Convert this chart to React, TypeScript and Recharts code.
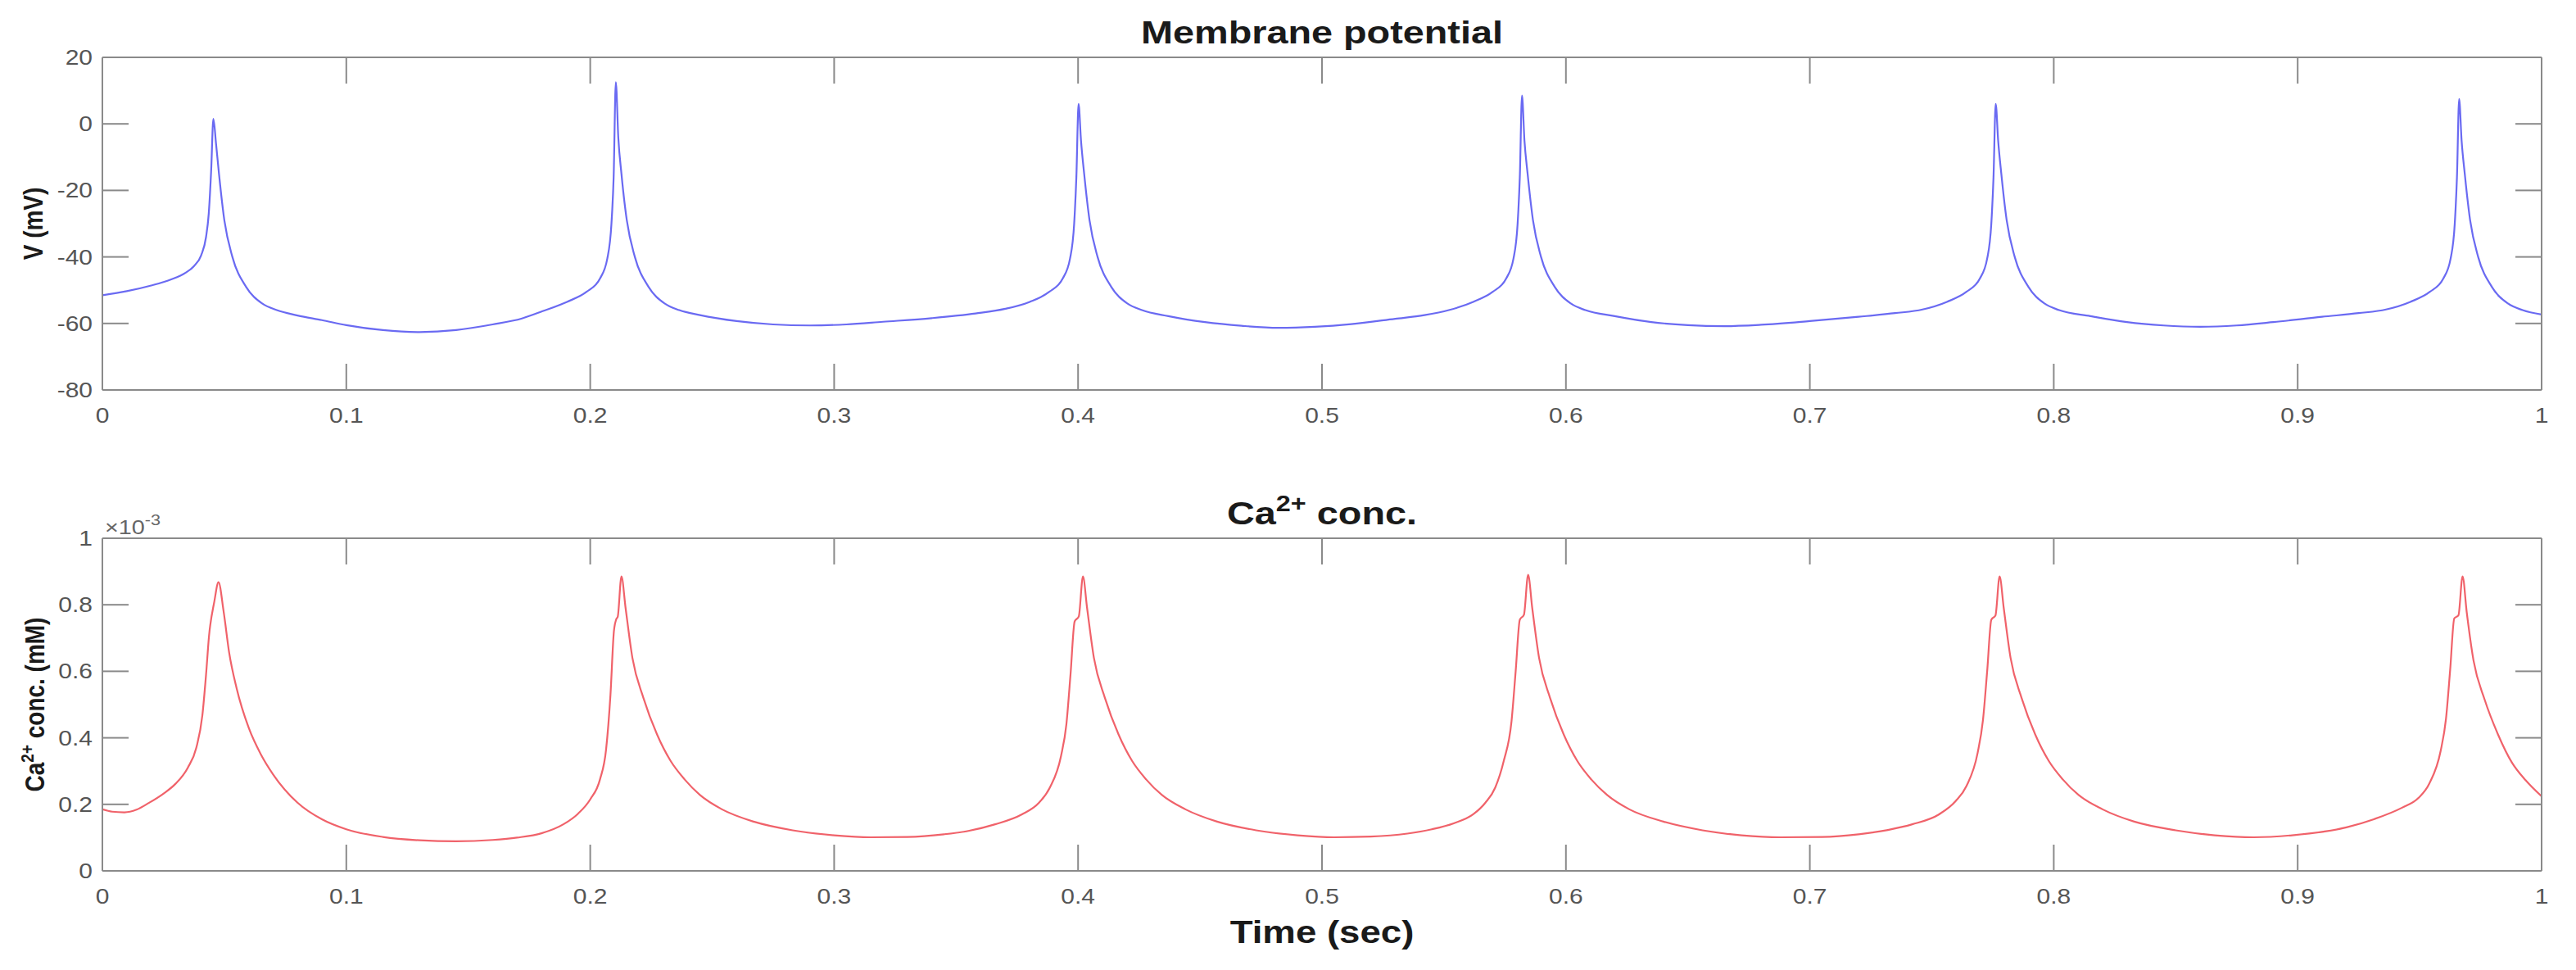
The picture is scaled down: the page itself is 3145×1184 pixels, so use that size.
import React from "react";
import { LineChart, Line, XAxis, YAxis } from "recharts";

// ---- Data ----
const timeTicks = [0, 0.1, 0.2, 0.3, 0.4, 0.5, 0.6, 0.7, 0.8, 0.9, 1];
const vTicks = [-80, -60, -40, -20, 0, 20];
const caTicks = [0, 0.2, 0.4, 0.6, 0.8, 1];

// Membrane potential: [time (s), V (mV)]
const vPoints: [number, number][] = [
  [0, -51.5], [0.01, -50.3], [0.02, -48.6], [0.028, -46.8], [0.034, -44.8], [0.0375, -42.8], [0.0405, -39.5],
  [0.0425, -34], [0.0436, -27], [0.0446, -14], [0.0455, 1.5], [0.0466, -6], [0.0478, -15], [0.05, -29],
  [0.0533, -40], [0.0589, -49], [0.0655, -54], [0.0715, -56], [0.08, -57.6], [0.09, -59], [0.1, -60.5],
  [0.115, -62], [0.13, -62.6], [0.145, -62], [0.16, -60.3], [0.172, -58.5], [0.1805, -56.3], [0.1905, -53.5],
  [0.1985, -50.5], [0.204, -46.5], [0.207, -40.5], [0.2087, -30], [0.2096, -16], [0.2105, 12.5],
  [0.2115, -4], [0.2128, -15], [0.215, -29], [0.2183, -40], [0.2239, -49], [0.2305, -54], [0.2365, -56],
  [0.245, -57.5], [0.26, -59.3], [0.275, -60.3], [0.29, -60.6], [0.305, -60.3], [0.32, -59.5], [0.34, -58.4],
  [0.358, -57], [0.3702, -55.6], [0.3802, -53.5], [0.3882, -50.5], [0.3937, -46.5], [0.3967, -40.5],
  [0.3984, -30], [0.3993, -16], [0.4002, 6],
  [0.4012, -5], [0.4025, -15], [0.4047, -29], [0.408, -40], [0.4136, -49], [0.4202, -54], [0.4262, -56],
  [0.437, -57.8], [0.452, -59.6], [0.467, -60.7], [0.482, -61.3], [0.497, -61], [0.512, -60.2], [0.53, -58.6],
  [0.542, -57.5], [0.552, -56], [0.562, -53.5], [0.57, -50.5], [0.5755, -46.5], [0.5785, -40.5], [0.5802, -30],
  [0.5811, -16], [0.582, 8.5],
  [0.583, -5], [0.5843, -15], [0.5865, -29], [0.5898, -40], [0.5954, -49], [0.602, -54], [0.608, -56],
  [0.62, -57.8], [0.635, -59.6], [0.65, -60.5], [0.665, -60.8], [0.68, -60.4], [0.7, -59.3], [0.72, -58],
  [0.735, -56.9], [0.7462, -55.8], [0.7562, -53.5], [0.7642, -50.5], [0.7697, -46.5], [0.7727, -40.5],
  [0.7744, -30], [0.7753, -16], [0.7762, 6],
  [0.7772, -5], [0.7785, -15], [0.7807, -29], [0.784, -40], [0.7896, -49], [0.7962, -54], [0.8022, -56],
  [0.815, -57.8], [0.83, -59.6], [0.845, -60.6], [0.86, -61], [0.875, -60.6], [0.89, -59.6], [0.91, -58],
  [0.925, -56.9], [0.9362, -55.8], [0.9462, -53.5], [0.9542, -50.5], [0.9597, -46.5], [0.9627, -40.5],
  [0.9644, -30], [0.9653, -16], [0.9662, 7.5],
  [0.9672, -5], [0.9685, -15], [0.9707, -29], [0.974, -40], [0.9796, -49], [0.9862, -54], [0.9922, -56],
  [1.0, -57.3],
];

// Ca2+ concentration: [time (s), conc (x10^-3 mM)]
const caPoints: [number, number][] = [
  [0, 0.185], [0.004, 0.178], [0.009, 0.176], [0.014, 0.184], [0.019, 0.204], [0.025, 0.232], [0.03, 0.262],
  [0.035, 0.31], [0.0385, 0.37], [0.041, 0.468], [0.0425, 0.59], [0.0437, 0.705], [0.0459, 0.81], [0.0476, 0.868],
  [0.0497, 0.78], [0.052, 0.655], [0.055, 0.55], [0.06, 0.43], [0.065, 0.35], [0.07, 0.29], [0.08, 0.205],
  [0.09, 0.155], [0.1, 0.125], [0.115, 0.102], [0.13, 0.092], [0.145, 0.089], [0.16, 0.093], [0.17, 0.1],
  [0.18, 0.113], [0.189, 0.14], [0.195, 0.172], [0.2, 0.215], [0.204, 0.275], [0.2065, 0.365], [0.2083, 0.53],
  [0.2097, 0.72], [0.2106, 0.755], [0.2113, 0.765], [0.2128, 0.885], [0.2145, 0.79], [0.2173, 0.64],
  [0.2218, 0.52], [0.2274, 0.41], [0.233, 0.33], [0.2387, 0.275], [0.245, 0.228], [0.254, 0.185], [0.267, 0.148],
  [0.283, 0.122], [0.3, 0.107], [0.315, 0.101], [0.33, 0.102], [0.345, 0.11], [0.355, 0.12], [0.366, 0.14],
  [0.377, 0.17], [0.384, 0.205], [0.3884, 0.25], [0.393, 0.345], [0.3952, 0.44], [0.3969, 0.59], [0.3986, 0.75],
  [0.4003, 0.765], [0.402, 0.885], [0.4037, 0.79], [0.4065, 0.64], [0.411, 0.52], [0.4166, 0.41], [0.4222, 0.33],
  [0.4279, 0.275], [0.4344, 0.228], [0.444, 0.185], [0.457, 0.148], [0.473, 0.122], [0.49, 0.107], [0.505, 0.101],
  [0.52, 0.103], [0.535, 0.112], [0.545, 0.125], [0.554, 0.143], [0.562, 0.17], [0.567, 0.205], [0.571, 0.25],
  [0.5745, 0.33], [0.5777, 0.45], [0.5794, 0.6], [0.5811, 0.755], [0.5828, 0.77], [0.5845, 0.89], [0.5862, 0.79],
  [0.589, 0.64], [0.5935, 0.52], [0.5991, 0.41], [0.6047, 0.33], [0.6104, 0.275], [0.6169, 0.228], [0.626, 0.185],
  [0.64, 0.148], [0.656, 0.122], [0.672, 0.107], [0.688, 0.101], [0.705, 0.102], [0.72, 0.11], [0.732, 0.123],
  [0.742, 0.14], [0.753, 0.17], [0.7598, 0.21], [0.7642, 0.255], [0.7688, 0.355], [0.771, 0.455], [0.7727, 0.6],
  [0.7744, 0.755], [0.7761, 0.768], [0.7778, 0.885], [0.7795, 0.79], [0.7823, 0.64], [0.7868, 0.52],
  [0.7924, 0.41], [0.798, 0.33], [0.8037, 0.275], [0.8102, 0.228], [0.82, 0.185], [0.833, 0.148], [0.85, 0.122],
  [0.866, 0.107], [0.882, 0.101], [0.8977, 0.107], [0.92, 0.131], [0.9315, 0.156], [0.9428, 0.19],
  [0.9495, 0.219], [0.954, 0.263], [0.9586, 0.36], [0.9608, 0.457], [0.9625, 0.603], [0.9642, 0.759],
  [0.9659, 0.768], [0.9676, 0.885], [0.9693, 0.778], [0.9721, 0.632], [0.9766, 0.516], [0.9822, 0.409],
  [0.9878, 0.326], [0.9935, 0.272], [1.0, 0.224],
];

const vData = vPoints.map(([t, v]) => ({ t, v }));
const caData = caPoints.map(([t, ca]) => ({ t, ca }));

// ---- Style ----
const FONT = '"Liberation Sans", Arial, Helvetica, sans-serif';
const AXIS = "#8a8a8a";
const LABEL = "#555555";
const TITLE = "#1a1a1a";
const TICK_LEN = 32;
const SX = 1.2;

const fmt = (v: number) => String(Math.round(v * 10) / 10);

const BottomTick = (p: any) => (
  <g>
    <line x1={p.x} y1={p.y} x2={p.x} y2={p.y - TICK_LEN} stroke={AXIS} strokeWidth={2} />
    <text
      transform={`translate(${p.x},${p.y + 40}) scale(${SX},1)`}
      textAnchor="middle"
      fontSize={25}
      fill={LABEL}
      fontFamily={FONT}
    >
      {fmt(p.payload.value)}
    </text>
  </g>
);
const TopTick = (p: any) => (
  <line x1={p.x} y1={p.y} x2={p.x} y2={p.y + TICK_LEN} stroke={AXIS} strokeWidth={2} />
);
const LeftTick = (p: any) => (
  <g>
    <line x1={p.x} y1={p.y} x2={p.x + TICK_LEN} y2={p.y} stroke={AXIS} strokeWidth={2} />
    <text
      transform={`translate(${p.x - 12},${p.y + 9}) scale(${SX},1)`}
      textAnchor="end"
      fontSize={25}
      fill={LABEL}
      fontFamily={FONT}
    >
      {fmt(p.payload.value)}
    </text>
  </g>
);
const RightTick = (p: any) => (
  <line x1={p.x} y1={p.y} x2={p.x - TICK_LEN} y2={p.y} stroke={AXIS} strokeWidth={2} />
);

const axisLine = { stroke: AXIS, strokeWidth: 2 };

function Panel(props: {
  data: any[];
  dataKey: string;
  color: string;
  yTicks: number[];
  yDomain: [number, number];
  height: number;
  margin: { top: number; right: number; bottom: number; left: number };
}) {
  const { data, dataKey, color, yTicks, yDomain, height, margin } = props;
  // axes take 1px each; subtract from margins so the plot area lands where intended
  const m = { top: margin.top - 1, right: margin.right - 1, bottom: margin.bottom - 1, left: margin.left - 1 };
  return (
    <LineChart width={3145} height={height} data={data} margin={m}>
      <XAxis
        xAxisId="b"
        dataKey="t"
        type="number"
        domain={[0, 1]}
        ticks={timeTicks}
        height={1}
        tickSize={0}
        tickMargin={0}
        tickLine={false}
        axisLine={axisLine}
        tick={BottomTick}
        interval={0}
        allowDataOverflow
      />
      <XAxis
        xAxisId="top"
        orientation="top"
        dataKey="t"
        type="number"
        domain={[0, 1]}
        ticks={timeTicks}
        height={1}
        tickSize={0}
        tickMargin={0}
        tickLine={false}
        axisLine={axisLine}
        tick={TopTick}
        interval={0}
        allowDataOverflow
      />
      <YAxis
        yAxisId="l"
        type="number"
        domain={yDomain}
        ticks={yTicks}
        width={1}
        tickSize={0}
        tickMargin={0}
        tickLine={false}
        axisLine={axisLine}
        tick={LeftTick}
        interval={0}
        allowDataOverflow
      />
      <YAxis
        yAxisId="r"
        orientation="right"
        type="number"
        domain={yDomain}
        ticks={yTicks}
        width={1}
        tickSize={0}
        tickMargin={0}
        tickLine={false}
        axisLine={axisLine}
        tick={RightTick}
        interval={0}
        allowDataOverflow
      />
      <Line
        xAxisId="b"
        yAxisId="l"
        dataKey={dataKey}
        type="monotone"
        stroke={color}
        strokeWidth={2.2}
        dot={false}
        activeDot={false}
        isAnimationActive={false}
      />
    </LineChart>
  );
}

export default function App() {
  const stretch = (x: number, y: number) => `translate(${x},${y}) scale(${SX},1)`;
  return (
    <div style={{ position: "absolute", left: 0, top: 0, width: 3145, height: 1184, background: "#fff" }}>
      <div style={{ position: "absolute", left: 0, top: 0 }}>
        <Panel
          data={vData}
          dataKey="v"
          color="#6a6af2"
          yTicks={vTicks}
          yDomain={[-80, 20]}
          height={560}
          margin={{ top: 70, right: 42, bottom: 84, left: 125 }}
        />
      </div>
      <div style={{ position: "absolute", left: 0, top: 590 }}>
        <Panel
          data={caData}
          dataKey="ca"
          color="#f0626a"
          yTicks={caTicks}
          yDomain={[0, 1]}
          height={594}
          margin={{ top: 67, right: 42, bottom: 121, left: 125 }}
        />
      </div>
      <svg
        width={3145}
        height={1184}
        style={{ position: "absolute", left: 0, top: 0, pointerEvents: "none" }}
        fontFamily={FONT}
      >
        <text transform={stretch(1614, 53)} textAnchor="middle" fontSize={39} fontWeight="bold" fill={TITLE}>
          Membrane potential
        </text>
        <text
          transform={stretch(1614, 640)}
          textAnchor="middle"
          fontSize={39}
          fontWeight="bold"
          fill={TITLE}
          style={{ whiteSpace: "pre" }}
        >
          <tspan>Ca</tspan>
          <tspan dy={-16} fontSize={27}>2+</tspan>
          <tspan dy={16}>{" conc."}</tspan>
        </text>
        <text transform={stretch(128, 652)} fontSize={24} fill="#666666" style={{ whiteSpace: "pre" }}>
          <tspan>{"\u00d710"}</tspan>
          <tspan dy={-11} fontSize={18}>-3</tspan>
        </text>
        <text
          transform={`translate(40,273) scale(${SX},1) rotate(-90)`}
          x={0}
          y={10}
          textAnchor="middle"
          fontSize={28}
          fontWeight="bold"
          fill={TITLE}
        >
          V (mV)
        </text>
        <text
          transform={`translate(42,860) scale(${SX},1) rotate(-90)`}
          x={0}
          y={10}
          textAnchor="middle"
          fontSize={28}
          fontWeight="bold"
          fill={TITLE}
          style={{ whiteSpace: "pre" }}
        >
          <tspan>Ca</tspan>
          <tspan dy={-11} fontSize={19}>2+</tspan>
          <tspan dy={11}>{" conc. (mM)"}</tspan>
        </text>
        <text transform={stretch(1614, 1151)} textAnchor="middle" fontSize={38} fontWeight="bold" fill={TITLE}>
          Time (sec)
        </text>
      </svg>
    </div>
  );
}
